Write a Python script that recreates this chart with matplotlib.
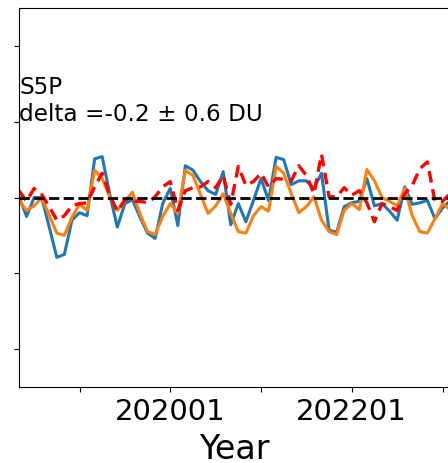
import numpy as np
import pandas as pd
import matplotlib
matplotlib.use("Agg")
import matplotlib.pyplot as plt

months = [p.strftime("%Y%m") for p in pd.period_range("2018-05", periods=58, freq="M")]

series_blue = [0.01, -0.25, 0.0, 0.0, -0.39, -0.79, -0.75, -0.30, -0.20, -0.24,
               0.51, 0.54, 0.04, -0.39, -0.08, -0.03, -0.26, -0.47, -0.54, -0.08,
               0.12, -0.37, 0.42, 0.36, 0.21, 0.09, 0.04, 0.34, -0.36, -0.08,
               -0.32, -0.04, 0.25, -0.04, 0.53, 0.50, 0.17, 0.22, 0.22, 0.12,
               0.32, -0.43, -0.46, -0.12, -0.07, -0.05, 0.25, -0.11, -0.08, -0.18,
               -0.30, 0.14, -0.09, -0.07, -0.04, -0.28, -0.14, -0.04]

series_orange = [-0.04, -0.17, -0.11, 0.0, -0.24, -0.47, -0.50, -0.26, -0.09, -0.17,
                 0.36, 0.25, 0.01, -0.17, -0.05, 0.07, -0.22, -0.45, -0.49, -0.25,
                 -0.08, -0.21, 0.36, 0.29, 0.04, -0.21, -0.11, 0.05, -0.21, -0.45,
                 -0.47, -0.24, -0.12, -0.18, 0.41, 0.32, 0.05, -0.20, -0.12, 0.01,
                 -0.30, -0.45, -0.49, -0.17, -0.08, -0.16, 0.37, 0.22, 0.0, -0.05,
                 -0.11, 0.12, -0.24, -0.45, -0.47, -0.28, -0.08, -0.16]

series_red = [0.09, -0.05, 0.12, 0.04, -0.12, -0.30, -0.24, -0.11, -0.08, -0.07,
              0.14, 0.32, 0.03, -0.18, -0.03, -0.05, -0.05, -0.07, 0.01, 0.14,
              0.21, -0.17, 0.09, 0.13, 0.14, 0.21, 0.13, 0.29, -0.09, 0.41,
              0.16, 0.21, 0.32, 0.14, 0.25, 0.24, 0.22, 0.42, 0.29, 0.05,
              0.57, 0.01, 0.01, 0.13, 0.03, 0.09, -0.07, -0.32, -0.08, -0.12,
              -0.17, 0.05, 0.16, 0.38, 0.47, -0.05, -0.05, 0.05]

shown_labels = ["202001", "202201"]
annotation = "S5P\ndelta =-0.2 \u00b1 0.6 DU"
xlabel = "Year"
yticks = [-2, -1, 0, 1, 2]

x = np.arange(len(months))
tick_idx = [i for i, m in enumerate(months) if m.endswith("01")]
tick_lab = [months[i] if months[i] in shown_labels else "" for i in tick_idx]

fig = plt.figure(figsize=(4.48, 4.64), dpi=100)
W, H = 448, 464
px_per_month = 7.5625
xmax = len(months) - 1
ax = fig.add_axes([19 / W, 76 / H, xmax * px_per_month / W, 379 / H])

ax.plot(x, series_blue, color="#1f77b4", lw=2.2)
ax.plot(x, series_orange, color="#ff7f0e", lw=2.2)
ax.plot(x, series_red, color="red", lw=2.4, ls="--", dashes=(3.5, 2))
ax.axhline(0, color="black", lw=2, ls="--")

ax.set_xlim(0, xmax)
ax.set_ylim(-2.5, 2.5)
ax.set_yticks(yticks)
ax.set_yticklabels([])
ax.set_xticks(tick_idx)
ax.set_xticklabels(tick_lab)
ax.tick_params(labelsize=21)
ax.set_xlabel(xlabel, fontsize=24, labelpad=5)

ax.text(0, 0.96, annotation, fontsize=16.7, ha="left", va="bottom")

fig.savefig("out.png", dpi=100)
